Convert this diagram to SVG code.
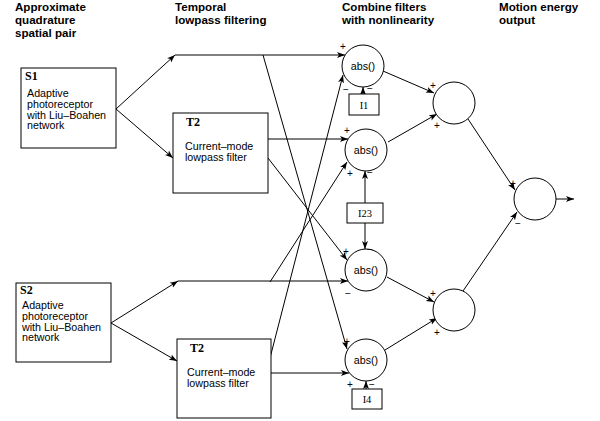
<svg xmlns="http://www.w3.org/2000/svg" width="600" height="421" viewBox="0 0 600 421">
<style>
.hdr{font-family:"Liberation Sans",Arial,sans-serif;font-weight:bold;font-size:11.6px;fill:#000}
.bt{font-family:"Liberation Sans",Arial,sans-serif;font-size:10.7px;fill:#000}
.lbl{font-family:"Liberation Serif","Times New Roman",serif;font-weight:bold;font-size:12px;fill:#000}
.ib{font-family:"Liberation Serif","Times New Roman",serif;font-size:10.5px;fill:#000}
.sg{font-family:"Liberation Sans",Arial,sans-serif;font-size:10px;fill:#000;text-anchor:middle}
.box{fill:#fff;stroke:#000;stroke-width:1}
.nd{fill:#fff;stroke:#000;stroke-width:1}
.cn line,.cn path{stroke:#000;stroke-width:1;fill:none}
.ar{marker-end:url(#ah)}
</style>
<defs>
<marker id="ah" markerUnits="userSpaceOnUse" markerWidth="9" markerHeight="7" refX="8" refY="3.5" orient="auto">
<path d="M0,0.5 L8,3.5 L0,6.5 L2,3.5 z" fill="#000"/>
</marker>
</defs>
<rect width="600" height="421" fill="#fff"/>
<g id="headers">
<text class="hdr" x="15" y="11">Approximate</text>
<text class="hdr" x="15" y="24">quadrature</text>
<text class="hdr" x="15" y="37">spatial pair</text>
<text class="hdr" x="175" y="11">Temporal</text>
<text class="hdr" x="175" y="24">lowpass filtering</text>
<text class="hdr" x="342" y="11">Combine filters</text>
<text class="hdr" x="342" y="24">with nonlinearity</text>
<text class="hdr" x="499" y="11">Motion energy</text>
<text class="hdr" x="499" y="24">output</text>
</g>
<g class="cn" id="connectors">
<line class="ar" x1="116" y1="109" x2="175" y2="55"/>
<line class="ar" x1="175" y1="55" x2="345" y2="55"/>
<line class="ar" x1="116" y1="109" x2="173" y2="158"/>
<line class="ar" x1="268" y1="139" x2="348" y2="139"/>
<line class="ar" x1="268" y1="158" x2="347" y2="260"/>
<line class="ar" x1="263" y1="55" x2="347" y2="349"/>
<line class="ar" x1="270" y1="282" x2="347" y2="162"/>
<line class="ar" x1="270" y1="358" x2="343" y2="75"/>
<line class="ar" x1="111" y1="323" x2="178" y2="281"/>
<line class="ar" x1="178" y1="281" x2="348" y2="281"/>
<line class="ar" x1="111" y1="323" x2="177" y2="361"/>
<line class="ar" x1="271" y1="373" x2="349" y2="373"/>
<line class="ar" x1="363" y1="94" x2="363" y2="87"/>
<line class="ar" x1="365" y1="203" x2="365" y2="171"/>
<line class="ar" x1="365" y1="223" x2="365" y2="249"/>
<line class="ar" x1="366" y1="389" x2="366" y2="381"/>
<line class="ar" x1="383" y1="71" x2="434" y2="93"/>
<line class="ar" x1="388" y1="142" x2="437" y2="114"/>
<line class="ar" x1="387" y1="277" x2="434" y2="302"/>
<line class="ar" x1="385" y1="350" x2="437" y2="318"/>
<line class="ar" x1="468" y1="119" x2="515" y2="190"/>
<line class="ar" x1="463" y1="291" x2="517" y2="212"/>
<line class="ar" x1="556" y1="199" x2="574" y2="199"/>
</g>
<g id="S1">
<rect class="box" x="21" y="68" width="95" height="80"/>
<text class="lbl" x="25" y="80">S1</text>
<text class="bt" x="27" y="97">Adaptive</text>
<text class="bt" x="27" y="107.8">photoreceptor</text>
<text class="bt" x="27" y="118.6">with Liu–Boahen</text>
<text class="bt" x="27" y="129.4">network</text>
</g>
<g id="S2">
<rect class="box" x="16" y="283" width="95" height="79"/>
<text class="lbl" x="20" y="294">S2</text>
<text class="bt" x="22" y="309">Adaptive</text>
<text class="bt" x="22" y="319.8">photoreceptor</text>
<text class="bt" x="22" y="330.6">with Liu–Boahen</text>
<text class="bt" x="22" y="341.4">network</text>
</g>
<g id="T2a">
<rect class="box" x="173" y="113" width="95" height="80"/>
<text class="lbl" x="186" y="126">T2</text>
<text class="bt" x="185" y="150">Current–mode</text>
<text class="bt" x="185" y="161">lowpass filter</text>
</g>
<g id="T2b">
<rect class="box" x="177" y="339" width="94" height="79"/>
<text class="lbl" x="190" y="352">T2</text>
<text class="bt" x="187" y="376">Current–mode</text>
<text class="bt" x="187" y="387">lowpass filter</text>
</g>
<g id="abs1">
<circle class="nd" cx="363" cy="66" r="21"/>
<text class="bt" x="363" y="70" text-anchor="middle">abs()</text>
<text class="sg" x="343" y="49.5">+</text>
<text class="sg" x="346" y="92.5">−</text>
<text class="sg" x="370" y="91.5">−</text>
</g>
<g id="I1">
<rect class="box" x="349" y="94" width="30" height="21"/>
<text class="ib" x="364" y="108.5" text-anchor="middle">I1</text>
</g>
<g id="abs2">
<circle class="nd" cx="366" cy="150" r="21"/>
<text class="bt" x="366" y="154" text-anchor="middle">abs()</text>
<text class="sg" x="347" y="133.5">+</text>
<text class="sg" x="350" y="176.5">+</text>
<text class="sg" x="370" y="175.5">−</text>
</g>
<g id="I23">
<rect class="box" x="347" y="203" width="36" height="20"/>
<text class="ib" x="365" y="217" text-anchor="middle">I23</text>
</g>
<g id="abs3">
<circle class="nd" cx="366" cy="270" r="21"/>
<text class="bt" x="366" y="274" text-anchor="middle">abs()</text>
<text class="sg" x="346" y="254.5">+</text>
<text class="sg" x="370" y="252.5">−</text>
<text class="sg" x="348" y="296.5">−</text>
</g>
<g id="abs4">
<circle class="nd" cx="366" cy="360" r="21"/>
<text class="bt" x="366" y="364" text-anchor="middle">abs()</text>
<text class="sg" x="347" y="344.5">+</text>
<text class="sg" x="350" y="387.5">+</text>
<text class="sg" x="372" y="387.5">−</text>
</g>
<g id="I4">
<rect class="box" x="352" y="389" width="30" height="20"/>
<text class="ib" x="367" y="403" text-anchor="middle">I4</text>
</g>
<g id="sum1">
<circle class="nd" cx="454" cy="103" r="21"/>
<text class="sg" x="433" y="88.5">+</text>
<text class="sg" x="437" y="128.5">+</text>
</g>
<g id="sum2">
<circle class="nd" cx="454" cy="310" r="21"/>
<text class="sg" x="433" y="296.5">+</text>
<text class="sg" x="437" y="335.5">+</text>
</g>
<g id="final">
<circle class="nd" cx="535" cy="199" r="21"/>
<text class="sg" x="513" y="186.5">+</text>
<text class="sg" x="518" y="226.5">−</text>
</g>
</svg>
